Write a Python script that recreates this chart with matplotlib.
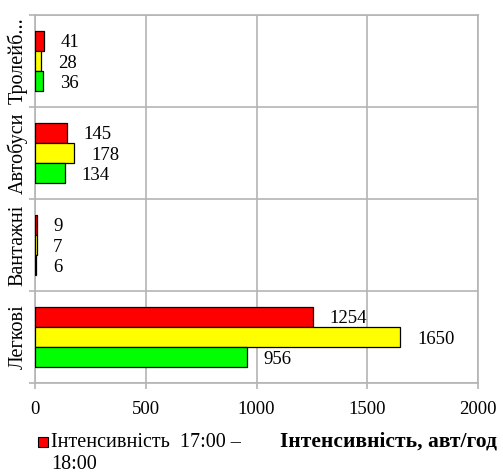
import numpy as np
import matplotlib.pyplot as plt
from matplotlib.patches import Rectangle
from matplotlib.transforms import blended_transform_factory

plt.rcParams['font.family'] = ['Liberation Serif', 'DejaVu Serif']

# Дані
categories = ['Легкові', 'Вантажні', 'Автобуси', 'Тролейб...']
red_vals = [1254, 9, 145, 41]
yellow_vals = [1650, 7, 178, 28]
green_vals = [956, 6, 134, 36]
xticks = [0, 500, 1000, 1500, 2000]

fs = 13.5
fig = plt.figure(figsize=(5.03, 4.76), dpi=100)
ax = fig.add_axes([35 / 503, 1 - 383 / 476, 443 / 503, 368 / 476])

y = np.arange(len(categories))
h = 0.22
series = [(red_vals, '#ff0000', h), (yellow_vals, '#ffff00', 0), (green_vals, '#00ff00', -h)]
for vals, col, off in series:
    bars = ax.barh(y + off, vals, height=h, color=col, edgecolor='black', linewidth=0.9, zorder=3)
    for b, v in zip(bars, vals):
        ax.annotate(str(v), (b.get_width(), b.get_y() + h / 2), xytext=(12, -1.5),
                    textcoords='offset points', va='center', ha='left', fontsize=fs)

ax.set_xlim(0, 2000)
ax.set_ylim(-0.5, len(categories) - 0.5)
ax.set_xticks(xticks)
ax.set_xticklabels([str(t) for t in xticks], fontsize=fs)
ax.set_yticks(np.arange(len(categories) + 1) - 0.5)
ax.set_yticklabels([])
ax.grid(True, color='#b4b4b4', linewidth=1.2, zorder=0)
ax.tick_params(axis='both', color='#b4b4b4', length=4, width=1.2, pad=9)
for s in ax.spines.values():
    s.set_color('#b4b4b4')
    s.set_linewidth(1.2)

trans = blended_transform_factory(ax.transAxes, ax.transData)
for yi, name in zip(y, categories):
    ax.text(-0.016, yi, name, rotation=90, ha='right', va='center', fontsize=14.5, transform=trans)

# легенда та підпис осі
fig.patches.append(Rectangle((38 / 503, 1 - 447 / 476), 10 / 503, 10 / 476, transform=fig.transFigure,
                             facecolor='#ff0000', edgecolor='black', linewidth=0.8))
fig.text(51 / 503, 1 - 433 / 476, 'Інтенсивність  17:00 –\n18:00', fontsize=14.5, va='top',
         ha='left', linespacing=1.2)
fig.text(497 / 503, 1 - 442 / 476, 'Інтенсивність, авт/год', fontsize=15.5, fontweight='bold',
         ha='right', va='center')

fig.savefig('out.png', dpi=100)
